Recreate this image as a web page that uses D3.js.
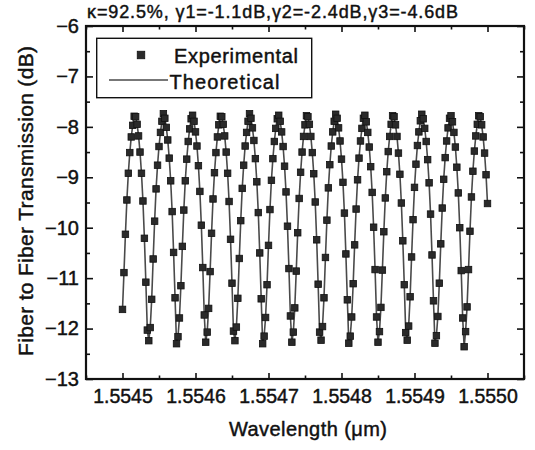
<!DOCTYPE html>
<html><head><meta charset="utf-8">
<script src="https://cdn.jsdelivr.net/npm/d3@7"></script>
<style>body{margin:0;background:#fff}</style>
</head><body>
<svg id="chart" width="535" height="450"></svg>
<script>
const titleText = "κ=92.5%, γ1=-1.1dB,γ2=-2.4dB,γ3=-4.6dB";
const xTitle = "Wavelength (μm)";
const yTitle = "Fiber to Fiber Transmission (dB)";
const legendLabels = ["Experimental", "Theoretical"];
const xTickValues = [1.5545, 1.5546, 1.5547, 1.5548, 1.5549, 1.5550];
const xTickLabels = ["1.5545", "1.5546", "1.5547", "1.5548", "1.5549", "1.5550"];
const xMinorTicks = [1.55445, 1.55455, 1.55465, 1.55475, 1.55485, 1.55495, 1.55505];
const yTickValues = [-6, -7, -8, -9, -10, -11, -12, -13];
const yMinorTicks = [-6.5, -7.5, -8.5, -9.5, -10.5, -11.5, -12.5];
// wavelength sweep: start and step of the measurement grid (µm)
const wavelengthStartUm = 1.5545;
const wavelengthStepUm = 0.000002;
// measured transmission (dB), one value per sweep step
const experimental = [
  -11.62, -10.89, -10.13, -9.45, -8.92, -8.51, -8.20, -7.97, -7.79,
  -7.80, -7.95, -8.18, -8.50, -8.92, -9.47, -10.21, -11.08, -12.03,
  -12.24, -11.98, -11.42, -10.62, -9.87, -9.23, -8.76, -8.39, -8.11, -7.89,
  -7.74, -7.83, -8.01, -8.26, -8.62, -9.07, -9.68, -10.49, -11.39,
  -12.30, -12.16, -11.79, -11.15, -10.37, -9.65, -9.07, -8.64, -8.29, -8.04, -7.84,
  -7.77, -7.89, -8.10, -8.38, -8.77, -9.28, -9.95, -10.79, -11.73,
  -12.27, -12.07, -11.60, -10.87, -10.11, -9.43, -8.91, -8.51, -8.20, -7.96, -7.79,
  -7.80, -7.95, -8.18, -8.50, -8.92, -9.48, -10.23, -11.10, -12.05,
  -12.24, -11.97, -11.40, -10.61, -9.86, -9.22, -8.76, -8.38, -8.11, -7.89,
  -7.74, -7.83, -8.02, -8.27, -8.63, -9.09, -9.70, -10.50, -11.41,
  -12.30, -12.15, -11.78, -11.13, -10.35, -9.64, -9.06, -8.63, -8.29, -8.03, -7.84,
  -7.77, -7.89, -8.10, -8.39, -8.78, -9.29, -9.97, -10.81, -11.75,
  -12.27, -12.07, -11.59, -10.86, -10.10, -9.42, -8.90, -8.50, -8.19, -7.96, -7.78,
  -7.80, -7.95, -8.19, -8.51, -8.93, -9.49, -10.24, -11.12, -12.07,
  -12.23, -11.96, -11.39, -10.59, -9.85, -9.21, -8.75, -8.38, -8.10, -7.89,
  -7.75, -7.83, -8.02, -8.28, -8.64, -9.10, -9.71, -10.52, -11.43,
  -12.29, -12.15, -11.77, -11.11, -10.34, -9.63, -9.05, -8.62, -8.28, -8.03, -7.83,
  -7.77, -7.90, -8.11, -8.40, -8.79, -9.30, -9.99, -10.83, -11.77,
  -12.27, -12.06, -11.58, -10.84, -10.08, -9.41, -8.89, -8.49, -8.19, -7.95, -7.78,
  -7.80, -7.96, -8.19, -8.52, -8.94, -9.51, -10.26, -11.13, -12.08,
  -12.23, -11.95, -11.37, -10.58, -9.84, -9.20, -8.74, -8.37, -8.10, -7.88,
  -7.75, -7.84, -8.03, -8.29, -8.65, -9.11, -9.73, -10.54, -11.45,
  -12.29, -12.14, -11.76, -11.10, -10.32, -9.61, -9.04, -8.61, -8.28, -8.02, -7.83,
  -7.78, -7.90, -8.11, -8.40, -8.80, -9.31, -10.00, -10.85, -11.79,
  -12.36, -12.06, -11.57, -10.83, -10.07, -9.39, -8.88, -8.48, -8.18, -7.95, -7.78,
  -7.80, -7.96, -8.20, -8.52, -8.95, -9.52
];
// theoretical curve coincides with the measurement at the same sweep points
const theoretical = experimental.slice();

const svg = d3.select("#chart");
const font = "'Liberation Sans', Arial, sans-serif";
const ink = "#111";
svg.append("rect").attr("width", 535).attr("height", 450).attr("fill", "#fff");

const x = d3.scaleLinear().domain([1.55445, 1.55505]).range([86, 524]);
const y = d3.scaleLinear().domain([-13, -6]).range([379, 26]);

const expData = experimental.map((v, i) => ({ w: wavelengthStartUm + i * wavelengthStepUm, v }));
const theoData = theoretical.map((v, i) => ({ w: wavelengthStartUm + i * wavelengthStepUm, v }));

function boldish(sel) {
  sel.attr("fill", ink).attr("stroke", ink).attr("stroke-width", 0.45).style("font-family", font);
}
function styleAxis(g) {
  g.select(".domain").remove();
  g.selectAll("line").attr("stroke", ink).attr("stroke-width", 1.6);
  g.selectAll("text").call(boldish);
}

// bottom axis
svg.append("g").attr("transform", "translate(0,379)")
  .call(d3.axisBottom(x).tickValues(xTickValues).tickFormat((d, i) => xTickLabels[i]).tickSizeInner(-6).tickSizeOuter(0).tickPadding(10))
  .call(styleAxis).call(g => g.selectAll("text").style("font-size", "19.5px"));
svg.append("g").attr("transform", "translate(0,379)")
  .call(d3.axisBottom(x).tickValues(xMinorTicks).tickFormat("").tickSizeInner(-3.5).tickSizeOuter(0))
  .call(styleAxis);
// top axis
svg.append("g").attr("transform", "translate(0,26)")
  .call(d3.axisTop(x).tickValues(xTickValues).tickFormat("").tickSizeInner(-6).tickSizeOuter(0))
  .call(styleAxis);
svg.append("g").attr("transform", "translate(0,26)")
  .call(d3.axisTop(x).tickValues(xMinorTicks).tickFormat("").tickSizeInner(-3.5).tickSizeOuter(0))
  .call(styleAxis);
// left axis
svg.append("g").attr("transform", "translate(86,0)")
  .call(d3.axisLeft(y).tickValues(yTickValues).tickFormat(d3.format("d")).tickSizeInner(-7).tickSizeOuter(0).tickPadding(7))
  .call(styleAxis).call(g => g.selectAll("text").style("font-size", "20px"));
svg.append("g").attr("transform", "translate(86,0)")
  .call(d3.axisLeft(y).tickValues(yMinorTicks).tickFormat("").tickSizeInner(-4).tickSizeOuter(0))
  .call(styleAxis);
// right axis
svg.append("g").attr("transform", "translate(524,0)")
  .call(d3.axisRight(y).tickValues(yTickValues).tickFormat("").tickSizeInner(-7).tickSizeOuter(0))
  .call(styleAxis);
svg.append("g").attr("transform", "translate(524,0)")
  .call(d3.axisRight(y).tickValues(yMinorTicks).tickFormat("").tickSizeInner(-4).tickSizeOuter(0))
  .call(styleAxis);

// frame
svg.append("rect").attr("x", 86).attr("y", 26).attr("width", 438).attr("height", 353)
  .attr("fill", "none").attr("stroke", ink).attr("stroke-width", 2.2);

// theoretical line
const line = d3.line().x(d => x(d.w)).y(d => y(d.v));
svg.append("path").datum(theoData).attr("d", line)
  .attr("fill", "none").attr("stroke", "#4a4a4a").attr("stroke-width", 1.6);

// experimental markers
const ms = 6.5;
svg.append("g").selectAll("rect").data(expData).join("rect")
  .attr("x", d => x(d.w) - ms / 2).attr("y", d => y(d.v) - ms / 2)
  .attr("width", ms).attr("height", ms)
  .attr("fill", "#2a2a2a").attr("stroke", "#111").attr("stroke-width", 0.8);

// legend
const lg = svg.append("g");
lg.append("rect").attr("x", 96.7).attr("y", 38.3).attr("width", 215).attr("height", 59.4)
  .attr("fill", "#fff").attr("stroke", ink).attr("stroke-width", 1.4);
lg.append("rect").attr("x", 141 - 3.75).attr("y", 55 - 3.75).attr("width", 7.5).attr("height", 7.5)
  .attr("fill", "#2a2a2a").attr("stroke", "#111").attr("stroke-width", 0.8);
lg.append("text").attr("x", 174).attr("y", 62.5).text(legendLabels[0])
  .style("font-size", "20px").call(boldish)
  .attr("textLength", 124).attr("lengthAdjust", "spacing");
lg.append("line").attr("x1", 109).attr("x2", 168).attr("y1", 80).attr("y2", 80)
  .attr("stroke", "#4a4a4a").attr("stroke-width", 1.6);
lg.append("text").attr("x", 169.5).attr("y", 89).text(legendLabels[1])
  .style("font-size", "20px").call(boldish)
  .attr("textLength", 110).attr("lengthAdjust", "spacing");

// title
svg.append("text").attr("x", 87).attr("y", 17.5).text(titleText)
  .style("font-size", "18px").call(boldish)
  .attr("textLength", 371).attr("lengthAdjust", "spacing");

// axis titles
svg.append("text").attr("x", 308).attr("y", 436).attr("text-anchor", "middle").text(xTitle)
  .style("font-size", "20px").call(boldish)
  .attr("textLength", 158).attr("lengthAdjust", "spacing");
svg.append("text").attr("transform", "translate(33,201) rotate(-90)").attr("text-anchor", "middle").text(yTitle)
  .style("font-size", "21px").call(boldish)
  .attr("textLength", 310).attr("lengthAdjust", "spacing");
</script>
</body></html>
